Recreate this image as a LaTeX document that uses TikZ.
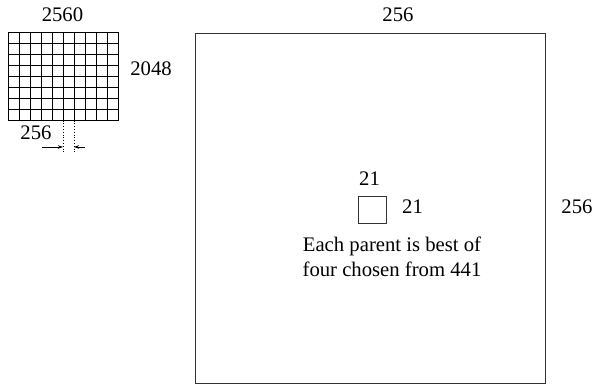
\documentclass[tikz,border=0pt]{standalone}
\usepackage{fontspec}
\setmainfont{Liberation Serif}
\usetikzlibrary{arrows.meta}
\begin{document}
\begin{tikzpicture}[x=1pt,y=-1pt,
  lbl/.style={anchor=base,inner sep=0pt,font=\fontsize{20.7}{25}\selectfont},
  box/.style={draw=black!80,line width=1.2pt,inner sep=0pt},
  gridline/.style={draw=black,line width=0.9pt},
  dimline/.style={dotted,line width=0.8pt},
  dimarrow/.style={-{Stealth[length=5pt,width=3.5pt]},line width=0.8pt}]
\useasboundingbox (0,0) rectangle (595,385);
% grid of images
\foreach \i in {0,...,10} \draw[gridline] ({8+11*\i},32.3) -- ({8+11*\i},120.7);
\foreach \j in {0,...,8} \draw[gridline] (8,{32.3+11.05*\j}) -- (118,{32.3+11.05*\j});
\node[lbl] (w) at (62.5,21.7) {2560};
\node[lbl] (h) at (151,75.7) {2048};
\node[lbl] (cell) at (36,140) {256};
% dimension marks
\coordinate (d1t) at (63,120.7); \coordinate (d1b) at (63,153);
\coordinate (d2t) at (74,120.7); \coordinate (d2b) at (74,153);
\draw[dimline] (d1t) -- (d1b);
\draw[dimline] (d2t) -- (d2b);
\coordinate (a1s) at (42,147); \coordinate (a1e) at (63,147);
\coordinate (a2s) at (85,147); \coordinate (a2e) at (74,147);
\draw[dimarrow] (a1s) -- (a1e);
\draw[dimarrow] (a2s) -- (a2e);
% big square
\node[box,minimum width=350pt,minimum height=350pt,anchor=north west] (big) at (195,32.7) {};
\node[lbl] (bw) at (398,22) {256};
\node[lbl] (bh) at (577,213.3) {256};
% small square
\node[box,line width=1pt,minimum size=27.3pt] (small) at (372.5,210.3) {};
\node[lbl] (sw) at (369.5,186) {21};
\node[lbl] (sh) at (412.5,213.3) {21};
\node[lbl] (t1) at (392,251.7) {Each parent is best of};
\node[lbl] (t2) at (392,276.7) {four chosen from 441};
\end{tikzpicture}
\end{document}
